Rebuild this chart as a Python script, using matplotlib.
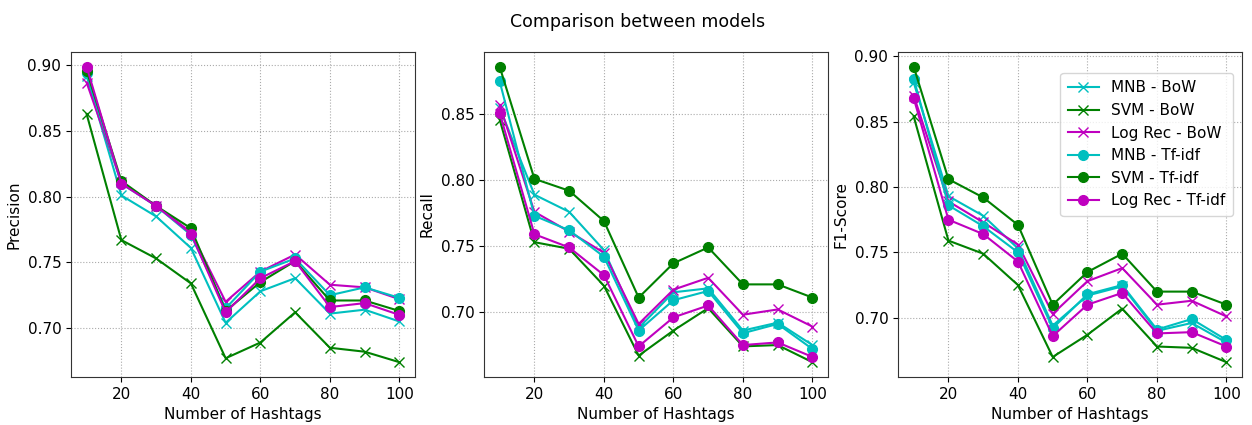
import numpy as np
import matplotlib.pyplot as plt

hashtags = [10, 20, 30, 40, 50, 60, 70, 80, 90, 100]

# Precision
prec_mnb_bow = [0.892, 0.801, 0.785, 0.761, 0.704, 0.728, 0.738, 0.711, 0.714, 0.705]
prec_svm_bow = [0.863, 0.767, 0.753, 0.734, 0.677, 0.689, 0.712, 0.685, 0.682, 0.674]
prec_log_bow = [0.887, 0.811, 0.793, 0.773, 0.720, 0.743, 0.756, 0.733, 0.731, 0.722]
prec_mnb_tfidf = [0.894, 0.810, 0.793, 0.771, 0.715, 0.743, 0.753, 0.725, 0.731, 0.723]
prec_svm_tfidf = [0.896, 0.812, 0.793, 0.776, 0.713, 0.735, 0.751, 0.721, 0.721, 0.713]
prec_log_tfidf = [0.899, 0.810, 0.793, 0.772, 0.712, 0.738, 0.751, 0.716, 0.719, 0.710]

# Recall
rec_mnb_bow = [0.855, 0.789, 0.776, 0.747, 0.688, 0.715, 0.718, 0.686, 0.692, 0.675]
rec_svm_bow = [0.846, 0.753, 0.748, 0.720, 0.667, 0.686, 0.703, 0.674, 0.675, 0.662]
rec_log_bow = [0.857, 0.776, 0.761, 0.745, 0.691, 0.717, 0.726, 0.698, 0.702, 0.689]
rec_mnb_tfidf = [0.875, 0.773, 0.762, 0.742, 0.686, 0.709, 0.716, 0.684, 0.691, 0.672]
rec_svm_tfidf = [0.886, 0.801, 0.792, 0.769, 0.711, 0.737, 0.749, 0.721, 0.721, 0.711]
rec_log_tfidf = [0.851, 0.759, 0.749, 0.728, 0.674, 0.696, 0.705, 0.675, 0.677, 0.666]

# F1-Score
f1_mnb_bow = [0.880, 0.793, 0.778, 0.753, 0.694, 0.717, 0.724, 0.690, 0.696, 0.681]
f1_svm_bow = [0.854, 0.759, 0.749, 0.725, 0.670, 0.687, 0.707, 0.678, 0.677, 0.666]
f1_log_bow = [0.870, 0.789, 0.773, 0.756, 0.703, 0.728, 0.738, 0.710, 0.713, 0.701]
f1_mnb_tfidf = [0.883, 0.786, 0.770, 0.750, 0.692, 0.718, 0.725, 0.691, 0.699, 0.683]
f1_svm_tfidf = [0.892, 0.806, 0.792, 0.771, 0.710, 0.735, 0.749, 0.720, 0.720, 0.710]
f1_log_tfidf = [0.868, 0.775, 0.764, 0.743, 0.686, 0.710, 0.719, 0.688, 0.689, 0.678]

labels = ['MNB - BoW', 'SVM - BoW', 'Log Rec - BoW',
          'MNB - Tf-idf', 'SVM - Tf-idf', 'Log Rec - Tf-idf']
colors = ['c', 'g', 'm', 'c', 'g', 'm']
markers = ['x', 'x', 'x', 'o', 'o', 'o']

panels = [
    ('Precision', [prec_mnb_bow, prec_svm_bow, prec_log_bow,
                   prec_mnb_tfidf, prec_svm_tfidf, prec_log_tfidf]),
    ('Recall', [rec_mnb_bow, rec_svm_bow, rec_log_bow,
                rec_mnb_tfidf, rec_svm_tfidf, rec_log_tfidf]),
    ('F1-Score', [f1_mnb_bow, f1_svm_bow, f1_log_bow,
                  f1_mnb_tfidf, f1_svm_tfidf, f1_log_tfidf]),
]

plt.rcParams['font.size'] = 11

fig = plt.figure(figsize=(12.52, 4.25), dpi=100)
lefts = [0.0567, 0.3866, 0.7173]

for i, (ylabel, series) in enumerate(panels):
    ax = fig.add_axes([lefts[i], 0.113, 0.2748, 0.7647])
    for vals, lab, c, m in zip(series, labels, colors, markers):
        ax.plot(hashtags, vals, color=c, marker=m, markersize=7, linewidth=1.5, label=lab)
    ax.set_xlabel('Number of Hashtags')
    ax.set_ylabel(ylabel)
    ax.set_xticks([20, 40, 60, 80, 100])
    ax.grid(True, linestyle=':', color='#aaaaaa')
    for s in ax.spines.values():
        s.set_color('#333333')
    if i == 2:
        ax.legend(loc='upper right', bbox_to_anchor=(0.995, 0.96), borderpad=0.5)

fig.suptitle('Comparison between models', x=0.509, y=0.97, fontsize=12.5)
fig.savefig('out.png')
